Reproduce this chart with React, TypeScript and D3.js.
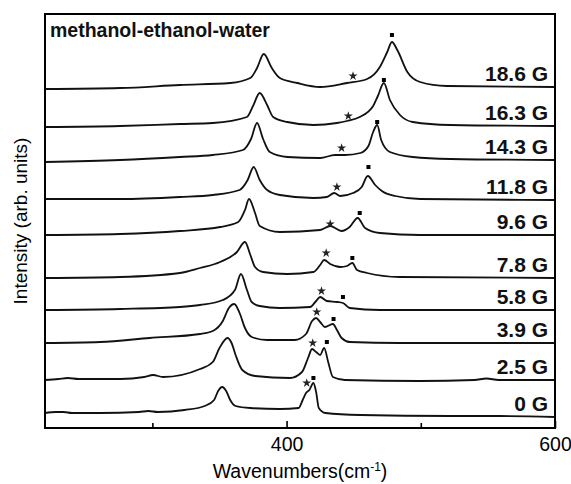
import React, { useEffect, useRef } from "react";
import * as d3 from "d3";

type Pt = [number, number];

// [wavenumber, stacked intensity (arb.)], bottom trace first
const trace0G: Pt[] = [
  [220, 15], [228, 16], [234, 16], [240, 15], [261, 15], [290, 16], [297, 17], [304, 16], [324, 18], [339, 22],
  [346, 28], [349, 37], [352, 41], [355, 37], [358, 28], [362, 22], [373, 20], [395, 19],
  [409, 20], [412, 28], [414.5, 35], [417, 38], [420, 45], [422, 36], [424, 20], [429, 15],
  [455, 13], [522, 12], [559, 12], [600, 11],
];
const trace2_5G: Pt[] = [
  [220, 48], [230, 49], [237, 50], [245, 49], [276, 49], [294, 51], [300.5, 53], [308, 51], [335.5, 59], [345, 66],
  [350, 80], [356, 90], [359, 85], [362, 73], [367, 58], [376.5, 52], [402.5, 50], [411.5, 56],
  [416, 70], [419, 79], [422, 76], [425, 73], [428, 80], [431, 66], [434.5, 51], [443.5, 48],
  [499, 47], [540, 48], [549, 49.5], [558, 48], [600, 48],
];
const trace3_9G: Pt[] = [
  [220, 85], [261, 86], [298, 90], [335.5, 94], [345, 97], [352.5, 107], [357, 120], [361, 124],
  [365, 115], [369, 100], [374, 91], [385.5, 88], [406, 88], [414.5, 94], [419, 107], [422, 110],
  [425, 106], [428.5, 101], [434.5, 104], [437.5, 98], [441, 90], [447, 86], [484.5, 85], [600, 85],
];
const trace5_8G: Pt[] = [
  [220, 118], [276, 119], [320.5, 121], [335.5, 123], [352.5, 128], [361.5, 138], [366, 154],
  [370.5, 138], [374, 126], [380, 122], [395, 120], [417.5, 121], [422, 127], [425, 131],
  [430, 127], [437.5, 126], [442, 125], [447, 120], [469.5, 118], [600, 118],
];
const trace7_8G: Pt[] = [
  [220, 150], [276, 151], [320.5, 155], [335.5, 160], [350.5, 166], [363, 176], [369, 186],
  [373, 173], [376.5, 161], [382.5, 156], [400.5, 154], [420, 156], [425, 163], [428, 168],
  [432.5, 164], [440, 161], [445, 162], [449, 165], [452.5, 158], [460, 155], [484.5, 151], [600, 150],
];
const trace9_6G: Pt[] = [
  [220, 193], [276, 194], [320.5, 197], [350.5, 201], [364, 206], [369, 218], [372, 229],
  [376.5, 215], [380, 202], [395, 196], [425, 198], [432.5, 202], [441, 197], [447, 201],
  [453, 210], [458.5, 200], [469.5, 195], [499.5, 193], [600, 193],
];
const trace11_8G: Pt[] = [
  [220, 229], [276, 229], [320.5, 231], [345, 233], [365, 238], [371, 248], [375.5, 261],
  [380, 248], [385.5, 238], [395, 233], [420, 230], [430, 231], [435.5, 235], [440, 232],
  [449.5, 235], [456, 241], [460.5, 252], [466, 243], [471, 237], [481, 232], [499.5, 229], [600, 228],
];
const trace14_3G: Pt[] = [
  [220, 266], [276, 268], [320.5, 271], [345, 273], [367.5, 278], [373.5, 289], [378, 305],
  [382.5, 289], [387.5, 276], [400.5, 271], [425, 270], [436, 273], [443.5, 273], [455, 275],
  [461, 282], [464.5, 296], [467.5, 303], [470.5, 288], [477, 276], [494, 271], [522, 269], [600, 268],
];
const trace16_3G: Pt[] = [
  [220, 301], [276, 302], [320.5, 304], [345, 305], [370.5, 311], [375, 322], [380, 335],
  [385.5, 323], [390, 311], [400.5, 306], [420, 303], [437.5, 305], [445, 307], [454.5, 311],
  [464.5, 322], [468, 332], [472.5, 345], [477, 328], [484.5, 313], [494, 306], [522, 303], [600, 302],
];
const trace18_6G: Pt[] = [
  [220, 339], [276, 340], [320.5, 343], [358, 345], [373, 350], [378, 360], [383, 374],
  [389, 360], [395, 350], [408, 345], [425, 341], [445, 345], [460, 349], [469.5, 361],
  [475, 376], [478.5, 386], [482.5, 378], [490, 356], [499.5, 346], [519.5, 342], [600, 341],
];

const traces = [trace0G, trace2_5G, trace3_9G, trace5_8G, trace7_8G, trace9_6G, trace11_8G, trace14_3G, trace16_3G, trace18_6G];
const traceLabels = ["0 G", "2.5 G", "3.9 G", "5.8 G", "7.8 G", "9.6 G", "11.8 G", "14.3 G", "16.3 G", "18.6 G"];

const starMarks: Pt[] = [
  [415, 45], [419.5, 85], [422.5, 116], [426, 137], [429.5, 175], [432.5, 204],
  [437.5, 241], [441, 280], [446, 312], [449.5, 352],
];
const squareMarks: Pt[] = [
  [420, 50], [430, 86], [435, 109], [442, 131], [449, 170], [454.5, 215],
  [461, 261], [467.5, 306], [472.5, 348], [478.5, 393],
];

const majorTicks = [400, 600];
const minorTicks = [300, 500];

const W = 571;
const H = 484;
const margin = { top: 14, right: 16, bottom: 56, left: 45 };

export default function App() {
  const axisRef = useRef<SVGGElement>(null);

  const x = d3.scaleLinear().domain([220, 600]).range([margin.left, W - margin.right]);
  const y = d3.scaleLinear().domain([0, 414]).range([H - margin.bottom, margin.top]);

  const line = d3
    .line<Pt>()
    .x((d) => x(d[0]))
    .y((d) => y(d[1]))
    .curve(d3.curveMonotoneX);

  const star = d3.symbol().type(d3.symbolStar).size(26)();
  const square = d3.symbol().type(d3.symbolSquare).size(16)();

  useEffect(() => {
    const g = d3.select(axisRef.current);
    g.selectAll("*").remove();
    const major = d3.axisBottom(x).tickValues(majorTicks).tickSize(-7).tickPadding(9).tickFormat(d3.format("d"));
    const minor = d3.axisBottom(x).tickValues(minorTicks).tickSize(-5).tickFormat(() => "");
    g.append("g").call(major);
    g.append("g").call(minor);
    g.selectAll(".domain").remove();
    g.selectAll(".tick line").attr("stroke", "#000").attr("stroke-width", 1.6);
    g.selectAll(".tick text")
      .attr("fill", "#000")
      .style("font-family", "'Liberation Sans', Arial, sans-serif")
      .style("font-size", "19.5px");
  }, []);

  const plotW = W - margin.left - margin.right;
  const plotH = H - margin.top - margin.bottom;

  return (
    <svg width={W} height={H} style={{ position: "absolute", left: 0, top: 0, background: "#fff" }}
      fontFamily="'Liberation Sans', Arial, sans-serif">
      <rect x={0} y={0} width={W} height={H} fill="#fff" />
      <g>
        {traces.map((t, i) => (
          <path key={i} d={line(t) || ""} fill="none" stroke="#111" strokeWidth={1.8} strokeLinejoin="round" />
        ))}
      </g>
      <g>
        {starMarks.map((d, i) => (
          <path key={i} d={star || ""} transform={`translate(${x(d[0])},${y(d[1])})`} fill="#222" />
        ))}
        {squareMarks.map((d, i) => (
          <path key={i} d={square || ""} transform={`translate(${x(d[0])},${y(d[1])})`} fill="#000" />
        ))}
      </g>
      <g>
        {traces.map((t, i) => (
          <text key={i} x={W - margin.right - 7} y={y(t[t.length - 1][1]) - 6} textAnchor="end"
            fontSize={21} fontWeight="bold" fill="#111">
            {traceLabels[i]}
          </text>
        ))}
      </g>
      <text x={margin.left + 5} y={37} fontSize={19.5} fontWeight="bold" fill="#111">methanol-ethanol-water</text>
      <rect x={margin.left} y={margin.top} width={plotW} height={plotH} fill="none" stroke="#000" strokeWidth={2} />
      <g ref={axisRef} transform={`translate(0,${H - margin.bottom})`} />
      <text x={300} y={478} textAnchor="middle" fontSize={19.5} fill="#000">
        Wavenumbers(cm<tspan dy={-7} fontSize={12}>-1</tspan><tspan dy={7}>)</tspan>
      </text>
      <text transform={`translate(27,${margin.top + plotH / 2}) rotate(-90)`} textAnchor="middle" fontSize={19} fill="#000">
        Intensity (arb. units)
      </text>
    </svg>
  );
}
